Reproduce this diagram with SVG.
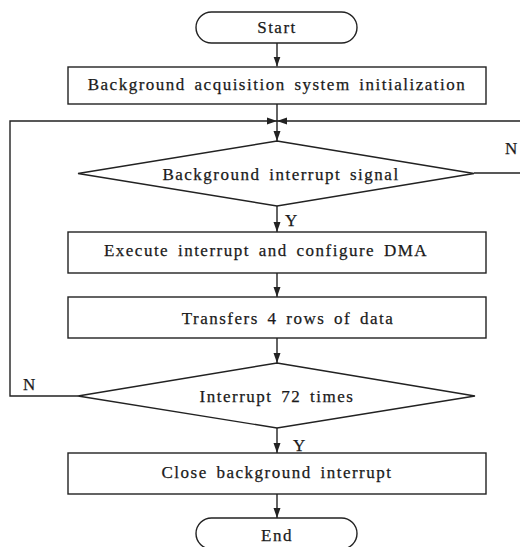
<svg xmlns="http://www.w3.org/2000/svg" width="520" height="547" viewBox="0 0 520 547">
<style>
.shape{fill:#fff;stroke:#222;stroke-width:1.4}
.conn{fill:none;stroke:#222;stroke-width:1.4}
text{font-family:"Liberation Serif","DejaVu Serif",serif;font-size:17px;fill:#1a1a1a;stroke:#1a1a1a;stroke-width:0.25;letter-spacing:1.5px;word-spacing:3px}
.c{text-anchor:middle}
</style>
<defs>
<marker id="arr" markerUnits="userSpaceOnUse" markerWidth="10" markerHeight="10" viewBox="0 0 10 10" refX="10" refY="5" orient="auto">
<path d="M0,1.5 L10,5 L0,8.5 Z" fill="#222"/>
</marker>
</defs>
<rect width="520" height="547" fill="#fff"/>
<g id="connectors">
<line class="conn" x1="277" y1="43" x2="277" y2="66.5" marker-end="url(#arr)"/>
<line class="conn" x1="277" y1="104" x2="277" y2="141" marker-end="url(#arr)"/>
<polyline class="conn" points="474,173 524,173 524,121 277,121" marker-end="url(#arr)"/>
<polyline class="conn" points="78,396 10,396 10,121 277,121" marker-end="url(#arr)"/>
<line class="conn" x1="277" y1="206" x2="277" y2="232" marker-end="url(#arr)"/>
<line class="conn" x1="277" y1="273" x2="277" y2="297" marker-end="url(#arr)"/>
<line class="conn" x1="277" y1="338" x2="277" y2="363" marker-end="url(#arr)"/>
<line class="conn" x1="277" y1="428" x2="277" y2="453" marker-end="url(#arr)"/>
<line class="conn" x1="277" y1="494" x2="277" y2="518" marker-end="url(#arr)"/>
<text x="505" y="154">N</text>
<text x="23" y="390">N</text>
<text x="285" y="226">Y</text>
<text x="293" y="451">Y</text>
</g>
<g id="start">
<rect class="shape" x="196" y="12" width="161" height="31" rx="15.5"/>
<text class="c" x="277" y="33">Start</text>
</g>
<g id="init">
<rect class="shape" x="68" y="67" width="418" height="37"/>
<text class="c" x="277" y="90">Background acquisition system initialization</text>
</g>
<g id="signal">
<polygon class="shape" points="277,141 474,173.5 277,206 78,173.5"/>
<text class="c" x="281" y="180">Background interrupt signal</text>
</g>
<g id="execute">
<rect class="shape" x="68" y="232" width="418" height="41"/>
<text class="c" x="266" y="256">Execute interrupt and configure DMA</text>
</g>
<g id="transfer">
<rect class="shape" x="68" y="297" width="418" height="41"/>
<text class="c" x="288" y="324">Transfers 4 rows of data</text>
</g>
<g id="count">
<polygon class="shape" points="277,363 475,396 277,428 78,396"/>
<text class="c" x="277" y="402">Interrupt 72 times</text>
</g>
<g id="close">
<rect class="shape" x="68" y="453" width="418" height="41"/>
<text class="c" x="277" y="478">Close background interrupt</text>
</g>
<g id="end">
<rect class="shape" x="196" y="518" width="161" height="31" rx="15.5"/>
<text class="c" x="277" y="541">End</text>
</g>
</svg>
